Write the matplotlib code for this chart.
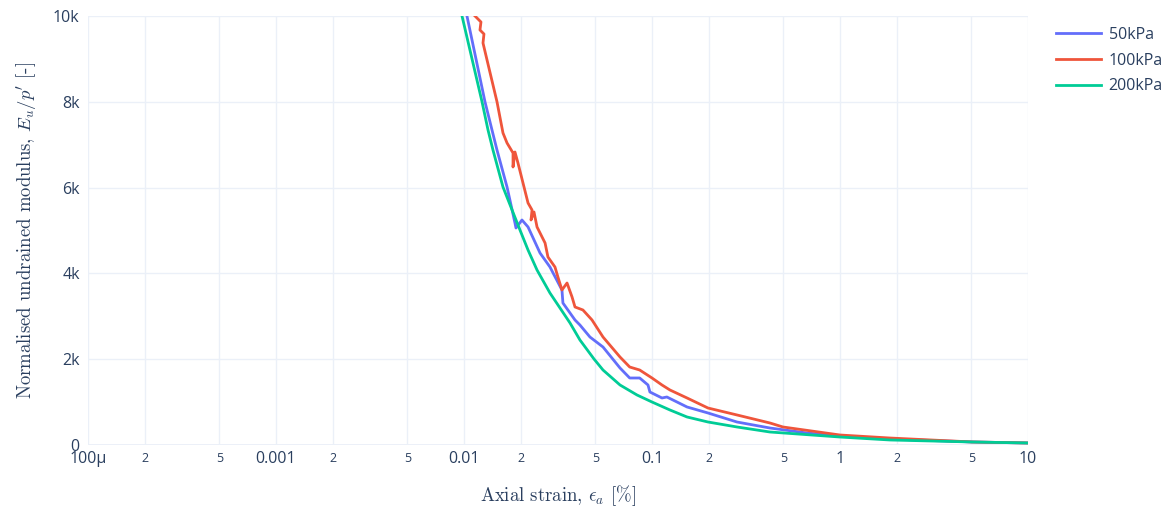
import numpy as np
import matplotlib
matplotlib.use("Agg")
import matplotlib.pyplot as plt

# strain [%] and normalised modulus
strain_50 = [0.01037, 0.01293, 0.01409, 0.01498, 0.01694, 0.01867, 0.0189, 0.02034,
             0.02191, 0.02537, 0.02866, 0.03319, 0.03359, 0.03894, 0.04137, 0.04677,
             0.05488, 0.06758, 0.0761, 0.086, 0.0952, 0.0975, 0.113, 0.12,
             0.1536, 0.1986, 0.2832, 0.424, 0.667, 1.0, 1.84, 5.09, 10]
mod_50 = [10000, 8000, 7343, 6876, 6014, 5175, 5058, 5245,
          5082, 4476, 4149, 3613, 3310, 2914, 2797, 2517,
          2284, 1795, 1562, 1562, 1399, 1235, 1096, 1119,
          886, 746, 536, 396, 280, 210, 140, 70, 47]

strain_100 = [0.01144, 0.01231, 0.01216, 0.01277, 0.01262, 0.01326, 0.01498, 0.01612,
              0.01694, 0.01823, 0.01823, 0.01867, 0.01937, 0.02191, 0.02301, 0.02272,
              0.02357, 0.02446, 0.02699, 0.02796, 0.03047, 0.03159, 0.03319, 0.03532,
              0.03756, 0.03894, 0.04292, 0.04797, 0.05488, 0.06758, 0.0761, 0.086,
              0.1, 0.113, 0.1246, 0.1536, 0.1986, 0.2832, 0.424, 0.497, 1.0, 1.84,
              5.09, 10]
mod_100 = [10000, 9860, 9674, 9580, 9371, 8974, 8000, 7273,
           7040, 6807, 6480, 6830, 6573, 5641, 5478, 5245,
           5431, 5082, 4709, 4382, 4149, 3916, 3613, 3776,
           3450, 3217, 3147, 2914, 2517, 2051, 1818, 1748,
           1562, 1399, 1282, 1096, 862, 700, 513, 420, 233, 163,
           70, 47]

strain_200 = [0.00976, 0.01247, 0.01342, 0.01426, 0.01612, 0.01985, 0.02191, 0.02446,
              0.02866, 0.03664, 0.04137, 0.04914, 0.05488, 0.06758, 0.0832, 0.1,
              0.1246, 0.1536, 0.1986, 0.2832, 0.424, 1.0, 1.84, 5.09, 10]
mod_200 = [10000, 8000, 7343, 6876, 6014, 5012, 4545, 4079,
           3543, 2844, 2448, 2005, 1748, 1399, 1166, 1002,
           816, 653, 536, 420, 303, 186, 117, 70, 47]

series = [("50kPa", strain_50, mod_50, "#636efa"),
          ("100kPa", strain_100, mod_100, "#EF553B"),
          ("200kPa", strain_200, mod_200, "#00cc96")]

major_ticks = [1e-4, 1e-3, 1e-2, 1e-1, 1, 10]
major_labels = ["100µ", "0.001", "0.01", "0.1", "1", "10"]
minor_ticks = [m * 10.0 ** e for e in range(-4, 1) for m in (2, 5)]
minor_labels = [str(m) for e in range(-4, 1) for m in (2, 5)]
y_ticks = [0, 2000, 4000, 6000, 8000, 10000]
y_labels = ["0", "2k", "4k", "6k", "8k", "10k"]

text_col = "#2a3f5f"
grid_col = "#EBF0F8"

plt.rcParams["font.family"] = ["Open Sans", "DejaVu Sans"]
plt.rcParams["mathtext.fontset"] = "cm"

fig = plt.figure(figsize=(11.66, 5.14), dpi=100)
ax = fig.add_axes([88 / 1166, 69 / 514, 940 / 1166, 429 / 514])

for name, xs, ys, col in series:
    ax.plot(xs, ys, color=col, lw=2, label=name, solid_joinstyle="round")

ax.set_xscale("log")
ax.set_xlim(1e-4, 10)
ax.set_ylim(0, 10000)

ax.set_xticks(major_ticks)
ax.set_xticklabels(major_labels)
ax.set_xticks(minor_ticks, minor=True)
ax.set_xticklabels(minor_labels, minor=True)
ax.set_yticks(y_ticks)
ax.set_yticklabels(y_labels)

ax.tick_params(which="both", length=0, colors=text_col)
ax.tick_params(axis="x", which="major", labelsize=11.5, pad=4)
ax.tick_params(axis="x", which="minor", labelsize=9, pad=5)
ax.tick_params(axis="y", labelsize=11.5, pad=6)

ax.grid(which="both", color=grid_col, lw=1)
ax.axhline(0, color=grid_col, lw=2, zorder=0.5)
ax.set_axisbelow(True)
for s in ax.spines.values():
    s.set_visible(False)

ax.set_xlabel(r"Axial strain, $\epsilon_a$ $[\%]$", family="cmr10",
              fontsize=13.5, color=text_col, labelpad=12)
ax.set_ylabel(r"Normalised undrained modulus, $E_u/p'$ [-]", family="cmr10",
              fontsize=13.5, color=text_col, labelpad=10)

fig.legend(loc="upper left", bbox_to_anchor=(1056 / 1166, 1 - 27 / 514),
           frameon=False, borderpad=0, borderaxespad=0, handlelength=2.8,
           handletextpad=0.5, labelspacing=0.6, fontsize=11.5,
           labelcolor=text_col)

fig.savefig("out.png", dpi=100, facecolor="white")
